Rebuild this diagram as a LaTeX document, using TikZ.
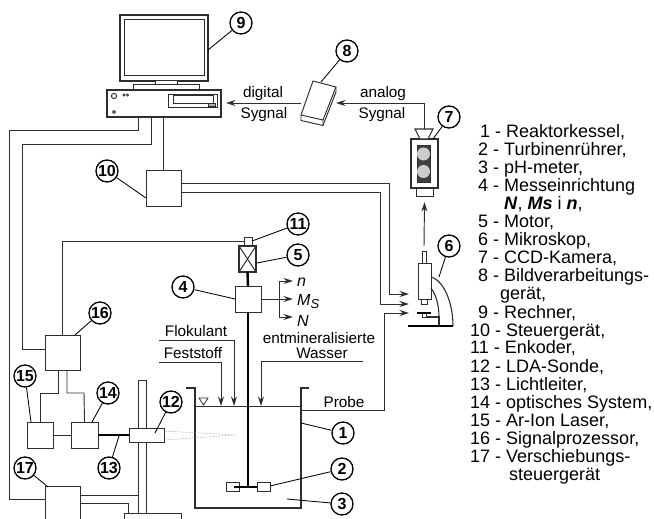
\documentclass[tikz,border=0pt]{standalone}
\usepackage{fontspec}
\setmainfont{Liberation Sans}
\usetikzlibrary{arrows.meta}
\definecolor{ink}{gray}{0.18}
\tikzset{
  wire/.style={draw=ink,line width=0.95pt},
  arrowwire/.style={wire,-{Stealth[length=9.5pt,width=6pt]}},
  shaft/.style={draw=black,line width=2.4pt},
  box/.style={draw=ink,line width=1pt,fill=white,rectangle,inner sep=0pt,outer sep=0pt},
  callout/.style={draw=black,line width=1.3pt,circle,fill=white,minimum size=22pt,inner sep=0pt,font=\fontsize{16}{16}\selectfont\bfseries},
  leader/.style={draw=black,line width=0.85pt},
  lab/.style={anchor=base,inner sep=0pt,font=\fontsize{15.3}{16}\selectfont},
  symb/.style={anchor=base west,inner sep=0pt,font=\fontsize{16}{16}\selectfont\itshape},
  legend/.style={anchor=base west,inner sep=0pt,font=\fontsize{18}{18}\selectfont},
  beam/.style={draw=gray,line width=0.5pt,densely dotted}
}
\begin{document}
\begin{tikzpicture}[x=1pt,y=-1pt]
\useasboundingbox (0,0) rectangle (654,519);

% ---- computer
\node[box,line width=1.2pt,minimum width=88pt,minimum height=66pt] (monitor) at (164,48) {};
\node[box,minimum width=80pt,minimum height=56pt] (screen) at (164,48) {};
\node[box,minimum width=22pt,minimum height=4pt] (stand) at (166,83) {};
\node[box,minimum width=66pt,minimum height=5pt] (mbase) at (166,87.5) {};
\node[box,line width=1.1pt,minimum width=114pt,minimum height=27pt] (pc) at (164,103.5) {};
\node[box,minimum width=49pt,minimum height=13pt] (drive) at (192.5,101.5) {};
\node[box,minimum width=40pt,minimum height=8pt] (slot) at (193,100) {};
\node[box,fill=gray!60,minimum width=7pt,minimum height=3pt] (btn) at (211.5,105.5) {};
\draw[wire,fill=white] (114,96) circle (2.6);
\draw[wire,line width=0.7pt] (124,95) circle (1.1) (127.5,95) circle (1.1);
\draw[wire,line width=0.8pt] (114,112) circle (1.5);

% ---- image processor 8
\draw[wire,fill=white,line join=round] (313,81) -- (336,87) -- (336,92) -- (323,125.5) -- (301,120.5) -- (301,115) -- cycle;
\draw[wire] (301,115) -- (323,120) -- (336,87) (323,120) -- (323,125.5);
\coordinate (devw) at (301,103);
\coordinate (deve) at (336,103);
\coordinate (pcin) at (226,103);

% ---- camera 7
\node[box,line width=1.2pt,minimum width=27pt,minimum height=49pt] (cam) at (424.5,163.5) {};
\node[box,fill=black!75,minimum width=13pt,minimum height=37pt] (camin) at (423.5,163.5) {};
\node[circle,fill=black!20,minimum size=13pt,inner sep=0pt] (lensa) at (423.5,154) {};
\node[circle,fill=black!20,minimum size=13pt,inner sep=0pt] (lensb) at (423.5,171.5) {};
\node[box,minimum width=17pt,minimum height=8pt] (camfoot) at (424.5,192) {};
\coordinate (camtop) at (424,129);
\coordinate (camcorner) at (433,139);
\draw[wire,line width=1.1pt,fill=white] (415,129) -- (433,129) -- (428,139) -- (420,139) -- cycle;
\draw[arrowwire] (camtop) |- (deve);
\draw[arrowwire] (devw) -- (pcin);

% ---- microscope 6
\node[box,minimum width=13pt,minimum height=36pt] (mbody) at (424.5,281) {};
\node[box,minimum width=4pt,minimum height=12pt] (mtube) at (424,257) {};
\node[box,minimum width=6pt,minimum height=5pt] (mlens) at (424,301.5) {};
\node[box,minimum width=4pt,minimum height=4pt] (mslide) at (424,315) {};
\coordinate (mtop) at (424,246);
\draw[arrowwire] (mtop) -- (camfoot.south |- 424,202);
\draw[wire,line width=1.1pt] (431,277) .. controls (445,281) and (453,305) .. (453,326);
\draw[wire,line width=1.1pt] (431,288) .. controls (436,295) and (439,305) .. (439,317);
\draw[wire,line width=1.1pt] (426,317) -- (439,317) -- (439,326);
\draw[draw=black,line width=1.6pt] (408,326) -- (453,326);
\draw[draw=black,line width=1.4pt] (417,313) -- (431,313);

% ---- controller 10
\node[box,minimum width=35pt,minimum height=36pt] (b10) at (163.5,188) {};
\coordinate (b10a) at (181,183.5);
\coordinate (b10b) at (181,192);
\coordinate (ma) at (409,294);
\coordinate (mb) at (409,304);
\coordinate (mc) at (409,313);
\draw[arrowwire] (b10a) -- (389,183.5) |- (ma);
\draw[arrowwire] (b10b) -- (380,192) |- (mb);
\draw[wire] (pc.south -| b10.north) -- (b10.north);

% ---- encoder, motor, measuring unit
\node[box,minimum width=8pt,minimum height=8pt] (enc) at (248,241) {};
\node[box,line width=1.2pt,minimum width=17pt,minimum height=26pt] (motor) at (247.5,259) {};
\draw[wire] (motor.north west) -- (motor.south east) (motor.north east) -- (motor.south west);
\node[box,minimum width=26pt,minimum height=26pt] (b4) at (248,299) {};
\draw[shaft] (motor.south) -- (b4.north);

% ---- tank
\draw[wire,line width=1.1pt] (186,388) -- (195,388) -- (195,508) -- (301,508) -- (301,388) -- (309,388);
\draw[wire] (195,406) -- (301,406);
\draw[wire,line width=0.8pt] (199,398) -- (208,398) -- (203.5,405) -- cycle;
\coordinate (imp) at (248,487);
\draw[shaft] (b4.south) -- (imp);
\node[box,minimum width=13pt,minimum height=9pt] (bladel) at (232.5,486.5) {};
\node[box,minimum width=13pt,minimum height=9pt] (blader) at (263.5,486.5) {};
\draw[draw=black,line width=1.7pt] (234,487) -- (257,487);

% ---- outputs of 4
\coordinate (oa) at (293,281);
\coordinate (ob) at (293,299);
\coordinate (oc) at (293,317);
\coordinate (osplit) at (279,299);
\draw[wire] (b4.east) -- (osplit);
\draw[arrowwire] (osplit) |- (oa);
\draw[arrowwire] (osplit) -- (ob);
\draw[arrowwire] (osplit) |- (oc);
\node[symb] (tn) at (297,286) {n};
\node[symb] (tm) at (297,305) {M\raisebox{-3.5pt}{\fontsize{13}{13}\selectfont S}};
\node[symb] (tnn) at (297,326) {N};

% ---- feeds
\coordinate (f1s) at (159,340);
\coordinate (f1e) at (234,406);
\coordinate (f2s) at (159,362);
\coordinate (f2e) at (221,406);
\coordinate (f3s) at (363,361);
\coordinate (f3e) at (261,406);
\draw[arrowwire] (f1s) -| (f1e);
\draw[arrowwire] (f2s) -| (f2e);
\draw[arrowwire] (f3s) -| (f3e);
\coordinate (prb) at (301,410.5);
\draw[arrowwire] (prb) -- (384.5,410.5) |- (mc);

% ---- laser rig
\node[box,minimum width=8pt,minimum height=135pt] (post) at (142,447.5) {};
\node[box,minimum width=35pt,minimum height=14pt] (b12) at (146.5,435) {};
\node[box,minimum width=57pt,minimum height=10pt] (rbase) at (152.5,518) {};
\node[box,minimum width=27pt,minimum height=26pt] (b14) at (84.5,435) {};
\node[box,minimum width=26pt,minimum height=26pt] (b15) at (40,435) {};
\node[box,minimum width=35pt,minimum height=35pt] (b16) at (62.5,352.5) {};
\node[box,minimum width=35pt,minimum height=36pt] (b17) at (62.5,504) {};
\coordinate (beamtip) at (235,435);
\coordinate (beama) at (164,431);
\coordinate (beamb) at (164,440);
\draw[beam] (beama) -- (beamtip) (beamb) -- (beamtip);
\draw[draw=black,line width=2.2pt] (b14.east) -- (b12.west);
\draw[wire] (b15.east) -- (b14.west);
\draw[wire] (58,370) -- (58,393) -- (40,393) -- (b15.north);
\draw[wire] (67,370) -- (67,393) -- (84,393) -- (b14.north);
\coordinate (s17a) at (80,495);
\coordinate (s17b) at (80,503);
\draw[wire] (s17a) -- (s17a -| post.west);
\draw[wire] (s17b) -- (128,503) -- (128,513);

% ---- long wires from computer
\coordinate (pca) at (138,117);
\coordinate (pcb) at (151,117);
\draw[wire] (pca) -- (138,130) -- (9,130) -- (9,499) -- (b17.west |- 0,499);
\draw[wire] (pcb) -- (151,144) -- (22,144) -- (22,349) -- (b16.west |- 0,349);
\draw[wire] (b16.north) |- (enc.west);

% ---- callouts
\node[callout] (c1) at (343,433) {1};
\node[callout] (c2) at (342,469) {2};
\node[callout] (c3) at (342,504) {3};
\node[callout] (c4) at (183,287) {4};
\node[callout] (c5) at (298,255) {5};
\node[callout] (c6) at (449,246) {6};
\node[callout] (c7) at (449,117) {7};
\node[callout] (c8) at (347,51) {8};
\node[callout] (c9) at (241,23) {9};
\node[callout] (c10) at (107,171) {10};
\node[callout] (c11) at (298,224) {11};
\node[callout] (c12) at (171,402) {12};
\node[callout] (c13) at (109,468) {13};
\node[callout] (c14) at (108,393) {14};
\node[callout] (c15) at (25,376) {15};
\node[callout] (c16) at (100,313) {16};
\node[callout] (c17) at (25,468) {17};
\coordinate (t1) at (301,423);
\coordinate (t2) at (270,486);
\coordinate (t3) at (287,499);
\coordinate (t4) at (235,299);
\coordinate (t5) at (257,263);
\coordinate (t6) at (439,277);
\coordinate (t8) at (321,82);
\coordinate (t9) at (208,50);
\coordinate (t10) at (146,198);
\coordinate (t11) at (252,241);
\coordinate (t12) at (155,433);
\coordinate (t13) at (119,436);
\coordinate (t14) at (92,422);
\coordinate (t15) at (31,422);
\coordinate (t16) at (75,335);
\coordinate (t17) at (48,487);
\foreach \i in {1,2,3,4,5,6,8,9,10,11,12,13,14,15,16,17}{\draw[leader] (c\i) -- (t\i);}
\draw[leader] (c7) -- (camcorner);

% ---- labels
\node[lab] (l1) at (263,98) {digital};
\node[lab] (l2) at (264,119) {Sygnal};
\node[lab] (l3) at (383,98) {analog};
\node[lab] (l4) at (382,118) {Sygnal};
\node[lab] (l5) at (196,336) {Flokulant};
\node[lab] (l6) at (193,358) {Feststoff};
\node[lab] (l7) at (319,343) {entmineralisierte};
\node[lab] (l8) at (322,358) {Wasser};
\node[lab] (l9) at (344,407) {Probe};

% ---- legend
\node[legend] (k1) at (480,137) {1 - Reaktorkessel,};
\node[legend] (k2) at (478,155) {2 - Turbinenrührer,};
\node[legend] (k3) at (478,173) {3 - pH-meter,};
\node[legend] (k4) at (478,191) {4 - Messeinrichtung};
\node[legend] (k4b) at (504,209) {\textbf{\textit{N}}, \textbf{\textit{Ms}} i \textbf{\textit{n}},};
\node[legend] (k5) at (478,227) {5 - Motor,};
\node[legend] (k6) at (478,245) {6 - Mikroskop,};
\node[legend] (k7) at (478,263) {7 - CCD-Kamera,};
\node[legend] (k8) at (478,281) {8 - Bildverarbeitungs-};
\node[legend] (k8b) at (500,299) {gerät,};
\node[legend] (k9) at (478,318) {9 - Rechner,};
\node[legend] (k10) at (470,336) {10 - Steuergerät,};
\node[legend] (k11) at (470,353) {11 - Enkoder,};
\node[legend] (k12) at (470,372) {12 - LDA-Sonde,};
\node[legend] (k13) at (470,390) {13 - Lichtleiter,};
\node[legend] (k14) at (470,408) {14 - optisches System,};
\node[legend] (k15) at (470,426) {15 - Ar-Ion Laser,};
\node[legend] (k16) at (470,444) {16 - Signalprozessor,};
\node[legend] (k17) at (470,462) {17 - Verschiebungs-};
\node[legend] (k17b) at (509,480) {steuergerät};
\end{tikzpicture}
\end{document}
